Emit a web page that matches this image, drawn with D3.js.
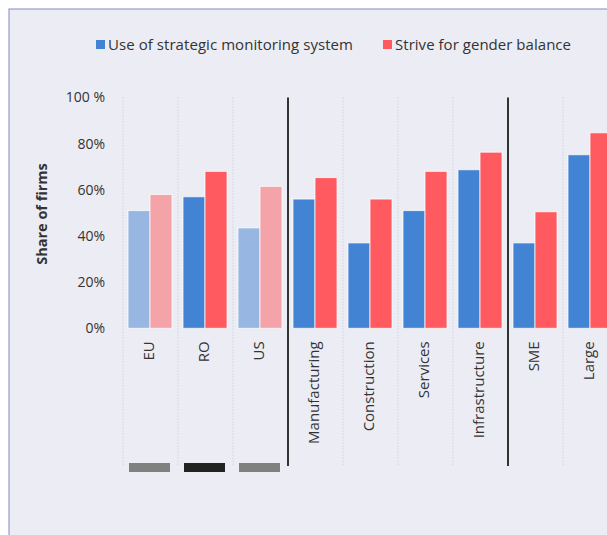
<!DOCTYPE html>
<html>
<head>
<meta charset="utf-8">
<script src="https://cdn.jsdelivr.net/npm/d3@7"></script>
<style>
  html, body { margin: 0; padding: 0; background: #fff; }
  svg { display: block; }
  text { font-family: "Open Sans", "Noto Sans", sans-serif; fill: #333; }
</style>
</head>
<body>
<svg id="chart" width="607" height="535"></svg>
<script>
// Categories: comparison countries, then sectors, then firm size
const categories = ["EU", "RO", "US", "Manufacturing", "Construction", "Services", "Infrastructure", "SME", "Large"];
const seriesNames = ["Use of strategic monitoring system", "Strive for gender balance"];
const monitoring = [51, 57, 43.5, 56, 37, 51, 68.7, 37, 75.2];
const genderBalance = [58, 68, 61.5, 65.3, 56, 68, 76.3, 50.5, 84.7];
const yTicks = [0, 20, 40, 60, 80, 100];
const yTickLabels = ["0%", "20%", "40%", "60%", "80%", "100 %"];
// Faded categories are the comparison groups
const faded = ["EU", "US"];
// Group separators after these categories
const separatorsAfter = ["US", "Infrastructure"];
// Country markers below the axis
const markerCats = ["EU", "RO", "US"];
const markerColors = ["#808080", "#222222", "#808080"];

const colors = { strong: ["#4383D4", "#FF5A5F"], light: ["#97B7E2", "#F4A3A8"] };

const svg = d3.select("#chart");

// Panel background with frame
svg.append("rect").attr("x", 9).attr("y", 9).attr("width", 640).attr("height", 560)
  .attr("fill", "#ECECF4").attr("stroke", "#9A9ACF").attr("stroke-width", 1.2);

const plotTop = 97.5, plotBottom = 328.3, gridBottom = 466;
const x = d3.scaleBand().domain(categories).range([123, 618]).padding(0);
const y = d3.scaleLinear().domain([0, 100]).range([plotBottom, plotTop]);
const x1 = d3.scaleBand().domain([0, 1]).range([5, 49]).padding(0);

// Dotted category gridlines
const boundaries = categories.map(c => x(c)).concat([x.range()[1]]);
svg.append("g").selectAll("line").data(boundaries).join("line")
  .attr("x1", d => d).attr("x2", d => d)
  .attr("y1", plotTop).attr("y2", gridBottom)
  .attr("stroke", "#D3D3DE").attr("stroke-width", 1).attr("stroke-dasharray", "1.5,1.5");

// Bars
const rows = categories.map((c, i) => ({ c, vals: [monitoring[i], genderBalance[i]] }));
const groups = svg.append("g").selectAll("g").data(rows).join("g")
  .attr("transform", d => `translate(${x(d.c)},0)`);
groups.selectAll("rect").data(d => d.vals.map((v, k) => ({ v, k, c: d.c }))).join("rect")
  .attr("x", d => x1(d.k))
  .attr("width", x1.bandwidth())
  .attr("y", d => y(d.v))
  .attr("height", d => y(0) - y(d.v))
  .attr("fill", d => (faded.includes(d.c) ? colors.light : colors.strong)[d.k])
  .attr("stroke", "rgba(255,255,255,0.75)").attr("stroke-width", 1);

// Solid group separators
svg.append("g").selectAll("line").data(separatorsAfter).join("line")
  .attr("x1", d => x(d) + x.bandwidth()).attr("x2", d => x(d) + x.bandwidth())
  .attr("y1", plotTop).attr("y2", gridBottom)
  .attr("stroke", "#333").attr("stroke-width", 2);

// Y axis labels
const yAxis = d3.axisLeft(y).tickValues(yTicks).tickSize(0).tickPadding(0)
  .tickFormat((d, i) => yTickLabels[i]);
const gy = svg.append("g").attr("transform", "translate(105,0)").call(yAxis);
gy.select(".domain").remove();
gy.selectAll("text").attr("font-size", 14).attr("fill", "#333")
  .style("font-family", "'Open Sans', 'Noto Sans', sans-serif");

// Y axis title
svg.append("text").attr("transform", "translate(47,214) rotate(-90)")
  .attr("text-anchor", "middle").attr("font-size", 14.5).attr("font-weight", "bold")
  .attr("fill", "#222").text("Share of firms");

// Category labels
const xAxis = d3.axisBottom(x).tickSize(0).tickPadding(0);
const gx = svg.append("g").attr("transform", `translate(0,${plotBottom})`).call(xAxis);
gx.select(".domain").remove();
gx.selectAll("text")
  .attr("transform", "rotate(-90)")
  .attr("x", -13).attr("y", -2).attr("dy", "0.35em")
  .attr("text-anchor", "end")
  .attr("font-size", 15).attr("fill", "#333")
  .style("font-family", "'Open Sans', 'Noto Sans', sans-serif");

// Country markers
svg.append("g").selectAll("rect").data(markerCats).join("rect")
  .attr("x", d => x(d) + 6).attr("width", x.bandwidth() - 14)
  .attr("y", 463).attr("height", 9)
  .attr("fill", (d, i) => markerColors[i]);

// Legend
const legend = svg.append("g");
const legendPos = [96, 383];
const legendWidths = [245, 176];
seriesNames.forEach((name, k) => {
  legend.append("rect").attr("x", legendPos[k]).attr("y", 40).attr("width", 9).attr("height", 9)
    .attr("fill", colors.strong[k]);
  legend.append("text").attr("x", legendPos[k] + 12).attr("y", 49.5)
    .attr("font-size", 15).attr("fill", "#333")
    .attr("textLength", legendWidths[k]).attr("lengthAdjust", "spacing")
    .text(name);
});
</script>
</body>
</html>
